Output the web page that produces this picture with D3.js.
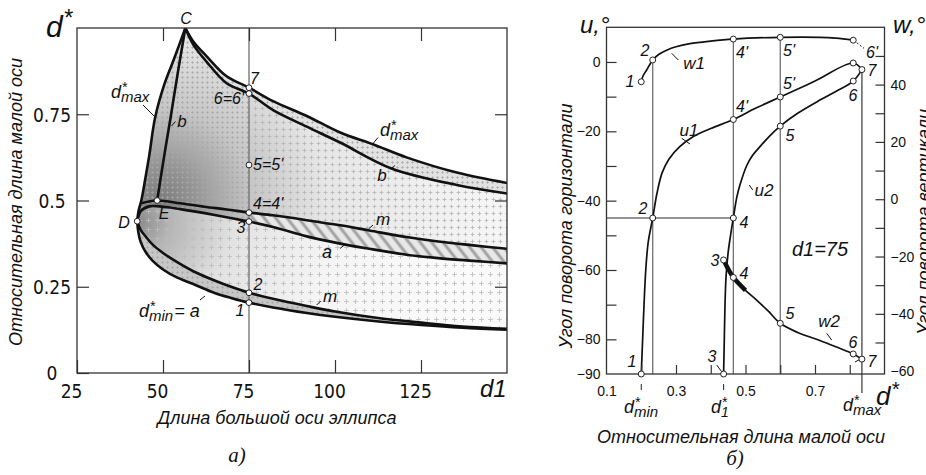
<!DOCTYPE html>
<html>
<head>
<meta charset="utf-8">
<script src="https://cdn.jsdelivr.net/npm/d3@7"></script>
<style>
  html, body { margin: 0; padding: 0; background: #fff; }
  svg { display: block; }
  .it { font-family: "Liberation Sans", Arial, sans-serif; font-style: italic; fill: #111; }
  .tk text { font-family: "Liberation Sans", Arial, sans-serif; fill: #111; }
  .tkn text { font-family: "Liberation Sans Narrow", "DejaVu Sans Condensed", "Liberation Sans", sans-serif; font-stretch: condensed; fill: #111; }
  .tk line, .tkn line { stroke: #333; stroke-width: 1.2; }
</style>
</head>
<body>
<svg id="fig" width="926" height="475"></svg>
<script>
// ===== Panel a): relative minor axis d* against major axis d1 =====
const d1Ticks = [25, 50, 75, 100, 125];
const dStarTicks = [0, 0.25, 0.5, 0.75];
const dStarTickLabels = ["0", "0.25", "0.5", "0.75"];

// boundary d*max, rising branch D -> C
const dmaxLeft = [[42.5,0.44],[42.9,0.47],[43.7,0.5],[44.8,0.56],[46.0,0.63],[47.7,0.74],[50.5,0.84],[53.2,0.91],[56.5,1.0]];
// boundary d*max, falling branch C -> right
const dmaxRight = [[56.5,1.0],[58.8,0.961],[62.7,0.918],[68.5,0.86],[75,0.827],[82,0.788],[91.8,0.745],[101.5,0.697],[111,0.663],[120.8,0.625],[135.4,0.581],[151,0.549]];
// curve b, E -> C
const bLeft = [[48.3,0.5],[50.2,0.62],[52.2,0.74],[54.3,0.87],[56.5,1.0]];
// curve b', C -> right
const bRight = [[56.5,1.0],[58.8,0.952],[62.7,0.902],[68.5,0.84],[75,0.81],[82,0.762],[91.8,0.714],[101.5,0.668],[116.4,0.593],[135.4,0.545],[151,0.519]];
// curve m (upper), from the d*max branch through E and 4
const mUpper = [[43.6,0.492],[48.3,0.5],[55,0.492],[62,0.482],[68.5,0.474],[75,0.465],[82,0.457],[91.8,0.443],[101.5,0.428],[110,0.413],[120.8,0.394],[130,0.381],[140.2,0.37],[151,0.359]];
// curve a, from D through 3
const aCurve = [[42.5,0.44],[43.6,0.47],[46,0.483],[50,0.482],[55,0.475],[65,0.458],[75,0.439],[82,0.423],[91.8,0.396],[101.5,0.375],[110,0.36],[120.8,0.343],[130,0.333],[140.2,0.325],[151,0.317]];
// curve m (lower), from D through 2
const mLower = [[42.5,0.44],[43.5,0.415],[45,0.395],[47,0.372],[50,0.348],[54,0.322],[58.8,0.295],[65,0.268],[70,0.249],[75,0.2325],[82,0.215],[91.8,0.194],[100,0.178],[112,0.16],[125,0.146],[137,0.135],[151,0.128]];
// boundary d*min = a, from D through 1
const dmin = [[42.5,0.44],[42.8,0.41],[43.5,0.38],[45,0.35],[47,0.325],[50,0.3],[54,0.277],[58.8,0.258],[65,0.232],[70,0.217],[75,0.204],[82,0.19],[91.8,0.174],[100,0.163],[112,0.15],[125,0.139],[137,0.131],[151,0.125]];

// marked states: name, d1, d*
const markNames = ["D", "E", "7", "6=6'", "5=5'", "4=4'", "3", "2", "1"];
const markD1    = [42.5, 48.3, 75, 75, 75, 75, 75, 75, 75];
const markDStar = [0.44, 0.5, 0.827, 0.81, 0.603, 0.465, 0.439, 0.2325, 0.204];
const sectionD1 = 75;

// ===== Panel б): rotation angles against d* at d1 = 75 =====
const dStarTicksB = [0.2, 0.3, 0.4, 0.5, 0.6, 0.7, 0.8];
const dStarLabelsB = [0.1, 0.3, 0.5, 0.7];
const uTicks = [-80, -70, -60, -50, -40, -30, -20, -10, 0];
const uLabels = [0, -20, -40, -60, -80, -90];
const wTicks = [-50, -40, -30, -20, -10, 0, 10, 20, 30, 40, 50];
const wLabels = [40, 20, 0, -20, -40, -60];

const u1 = [[0.2,-90],[0.204,-80],[0.208,-70],[0.213,-60],[0.22,-52],[0.233,-45],[0.245,-38],[0.26,-32],[0.28,-28],[0.31,-24.5],[0.35,-21.5],[0.4,-19.2],[0.465,-16.6],[0.53,-13.3],[0.6,-10.1],[0.7,-5.5],[0.81,-0.3],[0.835,-2.2]];
const u2 = [[0.437,-90],[0.439,-80],[0.441,-70],[0.444,-62],[0.45,-55],[0.457,-50],[0.465,-45],[0.475,-39],[0.484,-35.5],[0.503,-30],[0.52,-27],[0.541,-24.5],[0.57,-21.3],[0.6,-18.5],[0.65,-14.8],[0.714,-11],[0.76,-8.5],[0.81,-5.5],[0.835,-2.2]];
const w1 = [[0.2,41],[0.205,43],[0.215,45],[0.233,48.6],[0.25,50.5],[0.273,52],[0.3,53.2],[0.34,54.3],[0.4,55.2],[0.465,55.9],[0.6,56.5],[0.714,56.5],[0.76,56.2],[0.81,55.5]];
const w2 = [[0.437,-21.2],[0.45,-24.3],[0.465,-27.3],[0.5,-31.8],[0.532,-35.2],[0.565,-39],[0.6,-43.3],[0.65,-46.5],[0.714,-49.3],[0.76,-51.5],[0.81,-54],[0.835,-55.8]];

const dStarMin = 0.2, dStar2 = 0.233, dStar1 = 0.437, dStar4 = 0.465, dStar5 = 0.6, dStarMax = 0.835;
const uLevel = -45;

// ---------------------------------------------------------------
const svg = d3.select("#fig");
const defs = svg.append("defs");

const xA = d3.scaleLinear().domain([25, 150]).range([77, 507]);
const yA = d3.scaleLinear().domain([0, 1]).range([373, 28]);
const xB = d3.scaleLinear().domain([0.1, 0.9]).range([606.5, 884.5]);
const yU = d3.scaleLinear().domain([-90, 10]).range([374, 27.3]);
const yW = d3.scaleLinear().domain([-61, 60]).range([374, 27.3]);

// textures
function plusPattern(id, size, color, sw) {
  const p = defs.append("pattern").attr("id", id)
    .attr("patternUnits", "userSpaceOnUse").attr("width", size).attr("height", size);
  const h = size / 2, a = size * 0.28;
  p.append("path").attr("d", `M${h - a},${h}H${h + a}M${h},${h - a}V${h + a}`)
    .attr("stroke", color).attr("stroke-width", sw).attr("fill", "none");
}
plusPattern("plusDense", 5, "#a8a8a8", 0.7);
plusPattern("plusMid", 7, "#b4b4b4", 0.8);
plusPattern("plusSparse", 9, "#bcbcbc", 0.8);

const hatch = defs.append("pattern").attr("id", "hatch")
  .attr("patternUnits", "userSpaceOnUse").attr("width", 9).attr("height", 9)
  .attr("patternTransform", "rotate(-38)");
hatch.append("rect").attr("width", 9).attr("height", 9).attr("fill", "#e8e8e8");
hatch.append("line").attr("x1", 2).attr("y1", 0).attr("x2", 2).attr("y2", 9)
  .attr("stroke", "#a2a2a2").attr("stroke-width", 3);

function radial(id, cx, cy, r, stops) {
  const g = defs.append("radialGradient").attr("id", id)
    .attr("gradientUnits", "userSpaceOnUse").attr("cx", cx).attr("cy", cy).attr("r", r);
  stops.forEach(s => g.append("stop").attr("offset", s[0]).attr("stop-color", s[1]));
}
radial("gradUpper", xA(49), yA(0.5), 330,
  [[0, "#7c7c7c"], [0.1, "#939393"], [0.28, "#c6c6c6"], [0.5, "#e6e6e6"], [1, "#f5f5f5"]]);
radial("gradLower", xA(42.5), yA(0.44), 320,
  [[0, "#8a8a8a"], [0.1, "#b4b4b4"], [0.3, "#e2e2e2"], [0.6, "#f4f4f4"], [1, "#fafafa"]]);

defs.append("clipPath").attr("id", "clipA").append("rect")
  .attr("x", xA(25)).attr("y", yA(1)).attr("width", xA(150) - xA(25)).attr("height", yA(0) - yA(1));
defs.append("clipPath").attr("id", "clipRight75").append("rect")
  .attr("x", xA(sectionD1)).attr("y", yA(1)).attr("width", xA(150) - xA(sectionD1)).attr("height", yA(0) - yA(1));
defs.append("clipPath").attr("id", "clipLeft75").append("rect")
  .attr("x", xA(25)).attr("y", yA(1)).attr("width", xA(sectionD1) - xA(25)).attr("height", yA(0) - yA(1));

const lineA = d3.line().x(d => xA(d[0])).y(d => yA(d[1])).curve(d3.curveCatmullRom.alpha(0.5));
function region(...segs) {
  return segs.map((s, i) => { const p = lineA(s); return i ? "L" + p.slice(1) : p; }).join("") + "Z";
}
const rev = a => a.slice().reverse();

// ---------------- Panel a ----------------
const gA = svg.append("g");
const fills = gA.append("g").attr("clip-path", "url(#clipA)");

const upperPath = region(dmaxLeft, dmaxRight, rev(mUpper));
fills.append("path").attr("d", upperPath).attr("fill", "url(#gradUpper)");
fills.append("g").attr("clip-path", "url(#clipLeft75)")
  .append("path").attr("d", upperPath).attr("fill", "url(#plusDense)");
fills.append("g").attr("clip-path", "url(#clipRight75)")
  .append("path").attr("d", upperPath).attr("fill", "url(#plusMid)");

const bandPath = region(mUpper, rev(aCurve));
fills.append("path").attr("d", bandPath).attr("fill", "url(#gradUpper)");
fills.append("path").attr("d", bandPath).attr("fill", "url(#plusDense)");
fills.append("g").attr("clip-path", "url(#clipRight75)")
  .append("path").attr("d", bandPath).attr("fill", "url(#hatch)");

const lowerPath = region(aCurve, rev(mLower));
fills.append("path").attr("d", lowerPath).attr("fill", "url(#gradLower)");
fills.append("path").attr("d", lowerPath).attr("fill", "url(#plusSparse)");

const thinLow = region(mLower, rev(dmin));
fills.append("path").attr("d", thinLow).attr("fill", "#c6c6c6");
fills.append("path").attr("d", thinLow).attr("fill", "url(#plusDense)");

const thinTop = region(dmaxRight, rev(bRight));
fills.append("path").attr("d", thinTop).attr("fill", "#e2e2e2");
fills.append("path").attr("d", thinTop).attr("fill", "url(#plusDense)");

// section line d1 = 75
gA.append("line").attr("x1", xA(sectionD1)).attr("x2", xA(sectionD1))
  .attr("y1", yA(0)).attr("y2", yA(1)).attr("stroke", "#6e6e6e").attr("stroke-width", 1.3);

// boundary curves
const curvesA = gA.append("g").attr("clip-path", "url(#clipA)")
  .attr("fill", "none").attr("stroke", "#111").attr("stroke-width", 2.6).attr("stroke-linejoin", "round");
[dmaxLeft, dmaxRight, bLeft, bRight, mUpper, aCurve, mLower, dmin].forEach(c =>
  curvesA.append("path").attr("d", lineA(c)));

// frame and ticks
gA.append("rect").attr("x", xA(25)).attr("y", yA(1)).attr("width", xA(150) - xA(25))
  .attr("height", yA(0) - yA(1)).attr("fill", "none").attr("stroke", "#333").attr("stroke-width", 1.3);

const axBotA = gA.append("g").attr("class", "tkn").attr("transform", `translate(0,${yA(0)})`)
  .call(d3.axisBottom(xA).tickValues(d1Ticks).tickSize(-13).tickSizeOuter(0).tickPadding(12));
axBotA.selectAll("text").style("font-size", "19px").attr("dx", -6);
gA.append("g").attr("class", "tkn").attr("transform", `translate(0,${yA(1)})`)
  .call(d3.axisTop(xA).tickValues(d1Ticks.filter(v => v > 25)).tickSize(-13).tickSizeOuter(0).tickFormat(""));
const axLeftA = gA.append("g").attr("class", "tkn").attr("transform", `translate(${xA(25)},0)`)
  .call(d3.axisLeft(yA).tickValues(dStarTicks).tickSize(-12).tickSizeOuter(0).tickPadding(25)
    .tickFormat((d, i) => dStarTickLabels[i]));
axLeftA.selectAll("text").style("font-size", "19px").attr("text-anchor", "middle").attr("dy", "0.36em");
gA.append("g").attr("class", "tkn").attr("transform", `translate(${xA(150)},0)`)
  .call(d3.axisRight(yA).tickValues(dStarTicks.filter(v => v > 0)).tickSize(-12).tickSizeOuter(0).tickFormat(""));
svg.selectAll(".domain").remove();

// marked states
gA.append("g").selectAll("circle").data(markNames).join("circle")
  .attr("cx", (d, i) => xA(markD1[i])).attr("cy", (d, i) => yA(markDStar[i])).attr("r", 2.9)
  .attr("fill", "#fff").attr("stroke", "#222").attr("stroke-width", 1);

// ---------------- helpers for labels ----------------
function txt(g, x, y, s, size, anchor, cls) {
  return g.append("text").attr("class", cls || "it").attr("x", x).attr("y", y)
    .attr("text-anchor", anchor || "start").style("font-size", size + "px").text(s);
}
function leader(g, x1, y1, x2, y2, dash) {
  g.append("line").attr("x1", x1).attr("y1", y1).attr("x2", x2).attr("y2", y2)
    .attr("stroke", "#111").attr("stroke-width", 1).attr("stroke-dasharray", dash || null);
}
// "d" with a star above and an optional subscript, as one text element
function dLabel(g, x, y, size, sub, subSize, after) {
  const t = g.append("text").attr("class", "it").attr("x", x).attr("y", y).style("font-size", size + "px");
  t.append("tspan").text("d");
  const starSize = size * 0.78;
  const up = size * 0.36;
  const star = t.append("tspan").attr("dx", 0.5).attr("dy", -up).style("font-size", starSize + "px").text("*");
  if (sub) {
    const sw = star.node().getComputedTextLength();
    const down = up + size * 0.24;
    t.append("tspan").attr("dx", -sw - 0.5).attr("dy", down).style("font-size", subSize + "px").text(sub);
    if (after) t.append("tspan").attr("dx", 1).attr("dy", -(down - up)).style("font-size", size + "px").text(after);
  }
  return t;
}

const lab = svg.append("g");
// panel a annotations
txt(lab, 186, 24, "C", 16, "middle");
txt(lab, 250, 84, "7", 16);
txt(lab, 244, 104, "6=6'", 16, "end");
txt(lab, 253, 170, "5=5'", 16);
txt(lab, 253, 209, "4=4'", 16);
txt(lab, 241, 233, "3", 16, "middle");
txt(lab, 164, 219, "E", 16, "middle");
txt(lab, 124, 228, "D", 16, "middle");
txt(lab, 258, 290, "2", 16, "middle");
txt(lab, 240, 316, "1", 16, "middle");
txt(lab, 182, 127, "b", 17, "middle");
leader(lab, 171.5, 126, 175.5, 121.5);
dLabel(lab, 111, 98, 18, "max", 15);
leader(lab, 143, 105, 155, 117);
dLabel(lab, 380, 136, 18, "max", 15);
leader(lab, 373, 143.5, 378, 137.5);
txt(lab, 382, 181, "b", 17, "middle");
leader(lab, 391.5, 168.5, 395, 165.5);
txt(lab, 383, 225, "m", 17, "middle");
leader(lab, 368.5, 229, 373, 225);
txt(lab, 327, 258, "a", 18, "middle");
leader(lab, 340, 248.5, 345, 244.5);
txt(lab, 330, 302, "m", 17, "middle");
leader(lab, 316.7, 305, 320.7, 301);
dLabel(lab, 139, 317, 18, "min", 15, "= a");
leader(lab, 200, 300, 205, 296);

// axis names, panel a
dLabel(lab, 46, 37, 30, null);
txt(lab, 480, 397, "d1", 24);
txt(lab, 277, 424, "Длина большой оси эллипса", 18, "middle");
lab.append("text").attr("class", "it").attr("transform", "translate(22,202) rotate(-90)")
  .attr("text-anchor", "middle").style("font-size", "18px").text("Относительная длина малой оси");
lab.append("text").attr("x", 237).attr("y", 462).attr("text-anchor", "middle")
  .style("font-family", "'Liberation Serif', 'Times New Roman', serif").style("font-style", "italic")
  .style("font-size", "21px").attr("fill", "#111").text("a)");

// ---------------- Panel б ----------------
const gB = svg.append("g");
const lineU = d3.line().x(d => xB(d[0])).y(d => yU(d[1])).curve(d3.curveCatmullRom.alpha(0.5));
const lineW = d3.line().x(d => xB(d[0])).y(d => yW(d[1])).curve(d3.curveCatmullRom.alpha(0.5));

// guide lines
const guides = gB.append("g").attr("stroke", "#707070").attr("stroke-width", 1.3);
guides.append("line").attr("x1", xB(0.1)).attr("x2", xB(dStar4)).attr("y1", yU(uLevel)).attr("y2", yU(uLevel));
guides.append("line").attr("x1", xB(dStar2)).attr("x2", xB(dStar2)).attr("y1", yU(-90)).attr("y2", yW(48.6));
guides.append("line").attr("x1", xB(dStar4)).attr("x2", xB(dStar4)).attr("y1", yU(-90)).attr("y2", yW(55.9));
guides.append("line").attr("x1", xB(dStar5)).attr("x2", xB(dStar5)).attr("y1", yU(-90)).attr("y2", yW(56.5));
guides.append("line").attr("x1", xB(dStarMax)).attr("x2", xB(dStarMax)).attr("y1", 393).attr("y2", yU(-2.2))
  .attr("stroke", "#444");

// curves
const curvesB = gB.append("g").attr("fill", "none").attr("stroke", "#111").attr("stroke-width", 1.7)
  .attr("stroke-linejoin", "round");
curvesB.append("path").attr("d", lineU(u1));
curvesB.append("path").attr("d", lineU(u2));
curvesB.append("path").attr("d", lineW(w1));
curvesB.append("path").attr("d", lineW(w2));
curvesB.append("path").attr("d", lineW(w2.filter(d => d[0] <= 0.5))).attr("stroke-width", 4.5);

// frame and ticks
gB.append("rect").attr("x", xB(0.1)).attr("y", yU(10)).attr("width", xB(0.9) - xB(0.1))
  .attr("height", yU(-90) - yU(10)).attr("fill", "none").attr("stroke", "#333").attr("stroke-width", 1.3);

gB.append("g").attr("class", "tk").attr("transform", `translate(0,${yU(-90)})`)
  .call(d3.axisBottom(xB).tickValues(dStarTicksB).tickSize(-9).tickSizeOuter(0).tickFormat(""));
gB.append("g").attr("class", "tk").attr("transform", `translate(0,${yU(-90)})`)
  .call(d3.axisBottom(xB).tickValues(dStarLabelsB).tickSize(0).tickSizeOuter(0).tickPadding(12)
    .tickFormat(d3.format(".1f")))
  .selectAll("text").style("font-size", "14px");
gB.append("g").attr("class", "tk").attr("transform", `translate(${xB(0.1)},0)`)
  .call(d3.axisLeft(yU).tickValues(uTicks).tickSize(-10).tickSizeOuter(0).tickFormat(""));
gB.append("g").attr("class", "tk").attr("transform", `translate(${xB(0.1)},0)`)
  .call(d3.axisLeft(yU).tickValues(uLabels).tickSize(0).tickSizeOuter(0).tickPadding(6)
    .tickFormat(d => d3.format("d")(d)))
  .selectAll("text").style("font-size", "14px");
gB.append("g").attr("class", "tk").attr("transform", `translate(${xB(0.9)},0)`)
  .call(d3.axisRight(yW).tickValues(wTicks).tickSize(-9).tickSizeOuter(0).tickFormat(""));
gB.append("g").attr("class", "tk").attr("transform", `translate(${xB(0.9)},0)`)
  .call(d3.axisRight(yW).tickValues(wLabels).tickSize(0).tickSizeOuter(0).tickPadding(6)
    .tickFormat(d => d3.format("d")(d)))
  .selectAll("text").style("font-size", "14px");
svg.selectAll(".domain").remove();

// markers for d*min and d*1 under the axis
[dStarMin, dStar1].forEach(v => gB.append("line").attr("x1", xB(v)).attr("x2", xB(v))
  .attr("y1", 384).attr("y2", 390).attr("stroke", "#222").attr("stroke-width", 1));

// marked states on the curves
const ptsU = [[dStarMin,-90],[dStar2,-45],[dStar4,-16.6],[dStar5,-10.1],[0.81,-0.3],[dStarMax,-2.2],
              [dStar1,-90],[dStar4,-45],[dStar5,-18.5],[0.81,-5.5]];
const ptsW = [[dStarMin,41],[dStar2,48.6],[dStar4,55.9],[dStar5,56.5],[0.81,55.5],
              [dStar1,-21.2],[dStar4,-27.3],[dStar5,-43.3],[0.81,-54],[dStarMax,-55.8]];
gB.append("g").selectAll("circle").data(ptsU).join("circle")
  .attr("cx", d => xB(d[0])).attr("cy", d => yU(d[1])).attr("r", 3)
  .attr("fill", "#fff").attr("stroke", "#222").attr("stroke-width", 1);
gB.append("g").selectAll("circle").data(ptsW).join("circle")
  .attr("cx", d => xB(d[0])).attr("cy", d => yW(d[1])).attr("r", 3)
  .attr("fill", "#fff").attr("stroke", "#222").attr("stroke-width", 1);

// panel б annotations
txt(lab, 630, 87, "1", 16, "middle");
txt(lab, 645, 56, "2", 16, "middle");
txt(lab, 694, 69, "w1", 17, "middle");
leader(lab, 671.7, 53.3, 678.3, 60);
txt(lab, 742, 58, "4'", 16, "middle");
txt(lab, 789, 56, "5'", 16, "middle");
txt(lab, 872, 58, "6'", 16, "middle");
leader(lab, 856.7, 42.7, 864, 48.3, "2,2");
txt(lab, 872, 76, "7", 16, "middle");
txt(lab, 789, 89, "5'", 16, "middle");
txt(lab, 742, 112, "4'", 16, "middle");
txt(lab, 853, 101, "6", 16, "middle");
txt(lab, 790, 141, "5", 16, "middle");
txt(lab, 764, 196, "u2", 17, "middle");
leader(lab, 749.3, 185, 752.7, 190);
txt(lab, 744, 228, "4", 16, "middle");
txt(lab, 689, 136, "u1", 17, "middle");
leader(lab, 681.7, 138.3, 690, 144);
txt(lab, 643, 214, "2", 16, "middle");
txt(lab, 715, 266, "3", 16, "middle");
txt(lab, 744, 279, "4", 16, "middle");
txt(lab, 790, 319, "5", 16, "middle");
txt(lab, 829, 327, "w2", 17, "middle");
leader(lab, 826.7, 333.3, 831.7, 340);
txt(lab, 853, 348, "6", 16, "middle");
txt(lab, 872, 367, "7", 16, "middle");
leader(lab, 855, 362, 861.5, 358.5);
txt(lab, 632, 367, "1", 16, "middle");
txt(lab, 712, 362, "3", 16, "middle");
leader(lab, 716.7, 365, 721.7, 371.7);
txt(lab, 820, 256, "d1=75", 20, "middle");

// axis names, panel б
txt(lab, 580, 33, "u,°", 24);
txt(lab, 893, 33, "w,°", 24);
dLabel(lab, 876, 405, 26, null);
dLabel(lab, 624, 413, 18, "min", 15);
dLabel(lab, 711, 413, 18, "1", 14);
dLabel(lab, 843, 411, 18, "max", 15);
txt(lab, 741, 443, "Относительная длина малой оси", 18, "middle");
lab.append("text").attr("class", "it").attr("transform", "translate(572,226) rotate(-90)")
  .attr("text-anchor", "middle").style("font-size", "18px").text("Угол поворота горизонтали");
lab.append("text").attr("class", "it").attr("transform", "translate(930,222) rotate(-90)")
  .attr("text-anchor", "middle").style("font-size", "18px").text("Угол поворота вертикали");
lab.append("text").attr("x", 735).attr("y", 465).attr("text-anchor", "middle")
  .style("font-family", "'Liberation Serif', 'Times New Roman', serif").style("font-style", "italic")
  .style("font-size", "21px").attr("fill", "#111").text("б)");
</script>
</body>
</html>
